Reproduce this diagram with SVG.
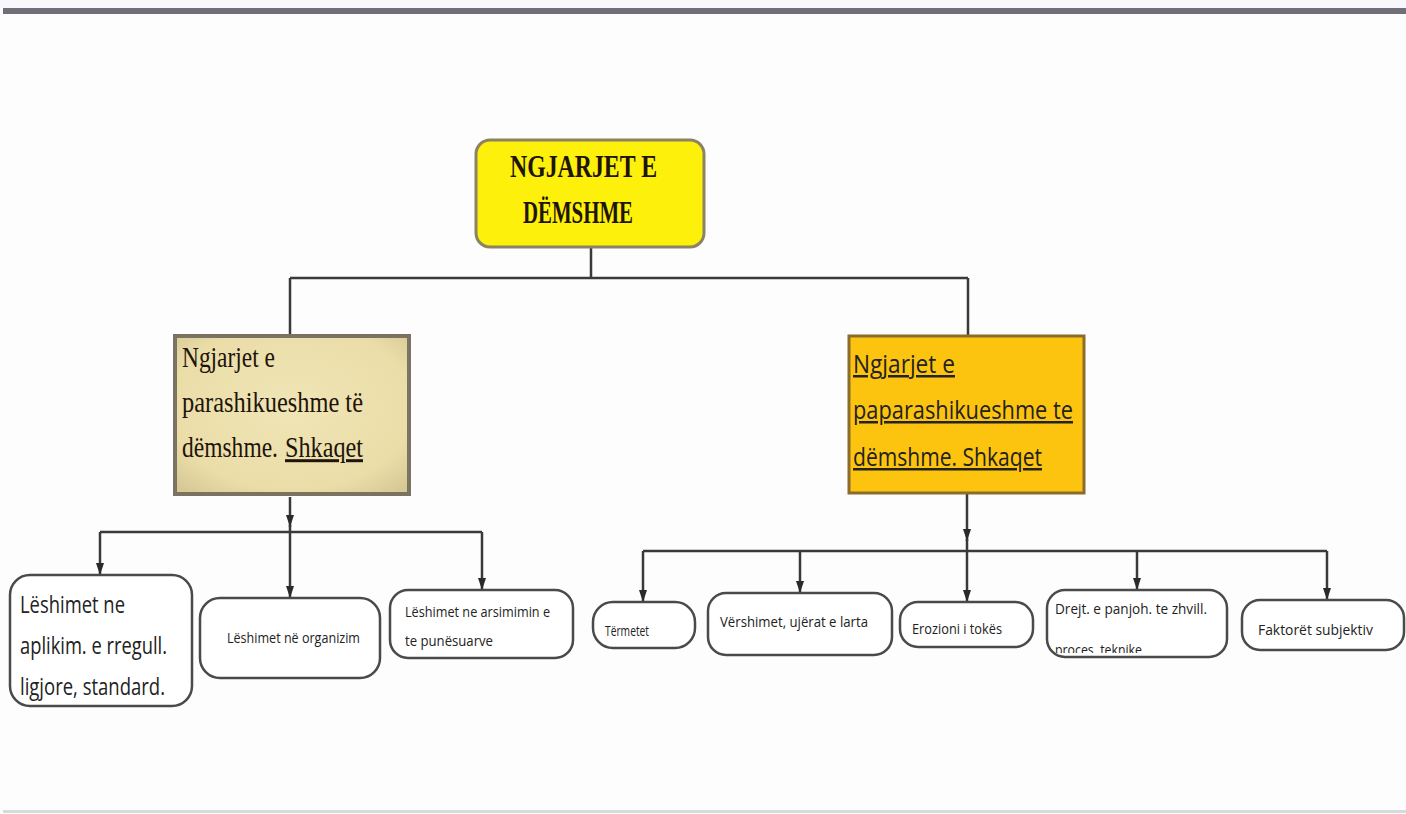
<svg xmlns="http://www.w3.org/2000/svg" width="1406" height="814" viewBox="0 0 1406 814">
<defs>
<style>
.bg{fill:#fdfdfd}
.conn{stroke:#3a3a3a;stroke-width:2.5;fill:none}
.serif{font-family:"Liberation Serif","Times New Roman",serif;fill:#1e140a}
.sans{font-family:"Open Sans","Liberation Sans",Arial,sans-serif;fill:#222}
.child{fill:#ffffff;stroke:#4a4a4a;stroke-width:2.5}
</style>
<marker id="ad" markerUnits="userSpaceOnUse" markerWidth="10" markerHeight="12" viewBox="0 0 10 12" refX="5" refY="12" orient="0">
<path d="M1,0 L9,0 L5,12 Z" fill="#2a2a2a"/>
</marker>
<radialGradient id="tan" cx="50%" cy="45%" r="70%">
<stop offset="0" stop-color="#f0e5b6"/>
<stop offset="0.75" stop-color="#eadda8"/>
<stop offset="1" stop-color="#d6c996"/>
</radialGradient>
<clipPath id="clipD"><rect x="1040" y="585" width="195" height="68"/></clipPath>
</defs>
<rect class="bg" x="0" y="0" width="1406" height="814"/>
<rect x="0" y="0" width="1406" height="8" fill="#f8f8fc"/>
<rect x="3" y="8" width="1403" height="6" fill="#6f6f79"/>
<rect x="3" y="810" width="1403" height="3" fill="#d9d9d9"/>

<g id="connectors">
<path class="conn" d="M591,248 V278 M290,278 H968 M290,278 V337 M968,278 V337"/>
<path class="conn" d="M290,497 V527" marker-end="url(#ad)"/>
<path class="conn" d="M290,525 V532 M100,532 H482"/>
<path class="conn" d="M100,532 V575" marker-end="url(#ad)"/>
<path class="conn" d="M290,532 V598" marker-end="url(#ad)"/>
<path class="conn" d="M482,532 V590" marker-end="url(#ad)"/>
<path class="conn" d="M967,493 V541" marker-end="url(#ad)"/>
<path class="conn" d="M967,539 V551 M643,551 H1327"/>
<path class="conn" d="M643,551 V602" marker-end="url(#ad)"/>
<path class="conn" d="M800,551 V593" marker-end="url(#ad)"/>
<path class="conn" d="M967,551 V602" marker-end="url(#ad)"/>
<path class="conn" d="M1137,551 V590" marker-end="url(#ad)"/>
<path class="conn" d="M1327,551 V600" marker-end="url(#ad)"/>
</g>

<g id="root">
<rect x="476" y="140" width="228" height="107" rx="14" fill="#fdf00a" stroke="#8c8264" stroke-width="3"/>
<text class="serif" x="510" y="177" font-size="32" font-weight="bold" textLength="147" lengthAdjust="spacingAndGlyphs">NGJARJET E</text>
<text class="serif" x="523" y="223" font-size="32" font-weight="bold" textLength="110" lengthAdjust="spacingAndGlyphs">DËMSHME</text>
</g>

<g id="left-parent">
<rect x="175" y="336" width="234" height="158" fill="url(#tan)" stroke="#7b7362" stroke-width="4"/>
<text class="serif" x="182" y="367" font-size="24" transform="matrix(1 0 0 1.25 0 -91.75)" textLength="93" lengthAdjust="spacingAndGlyphs">Ngjarjet e</text>
<text class="serif" x="182" y="412" font-size="24" transform="matrix(1 0 0 1.25 0 -103)" textLength="181" lengthAdjust="spacingAndGlyphs">parashikueshme të</text>
<text class="serif" x="182" y="457" font-size="24" transform="matrix(1 0 0 1.25 0 -114.25)" textLength="96" lengthAdjust="spacingAndGlyphs">dëmshme.</text>
<text class="serif" x="285" y="457" font-size="24" transform="matrix(1 0 0 1.25 0 -114.25)" text-decoration="underline" textLength="78" lengthAdjust="spacingAndGlyphs">Shkaqet</text>
</g>

<g id="right-parent">
<rect x="849" y="336" width="235" height="157" fill="#fdc40f" stroke="#8a6c2c" stroke-width="3"/>
<text class="sans" x="853" y="373" font-size="25" fill="#2a1a0a" text-decoration="underline" textLength="102" lengthAdjust="spacingAndGlyphs">Ngjarjet e</text>
<text class="sans" x="853" y="419" font-size="25" fill="#2a1a0a" text-decoration="underline" textLength="220" lengthAdjust="spacingAndGlyphs">paparashikueshme te</text>
<text class="sans" x="853" y="466" font-size="25" fill="#2a1a0a" text-decoration="underline" textLength="189" lengthAdjust="spacingAndGlyphs">dëmshme. Shkaqet</text>
</g>

<g id="child-aplikim">
<rect class="child" x="10" y="575" width="182" height="131" rx="20"/>
<text class="sans" x="20" y="613" font-size="24" textLength="105" lengthAdjust="spacingAndGlyphs">Lëshimet ne</text>
<text class="sans" x="20" y="654" font-size="24" textLength="147" lengthAdjust="spacingAndGlyphs">aplikim. e rregull.</text>
<text class="sans" x="20" y="695" font-size="24" textLength="145" lengthAdjust="spacingAndGlyphs">ligjore, standard.</text>
</g>

<g id="child-organizim">
<rect class="child" x="200" y="598" width="180" height="80" rx="20"/>
<text class="sans" x="227" y="643" font-size="14" textLength="133" lengthAdjust="spacingAndGlyphs">Lëshimet në organizim</text>
</g>

<g id="child-arsimimin">
<rect class="child" x="390" y="590" width="183" height="68" rx="18"/>
<text class="sans" x="405" y="617" font-size="14" textLength="145" lengthAdjust="spacingAndGlyphs">Lëshimet ne arsimimin e</text>
<text class="sans" x="405" y="646" font-size="14" textLength="88" lengthAdjust="spacingAndGlyphs">te punësuarve</text>
</g>

<g id="child-termetet">
<rect class="child" x="593" y="602" width="102" height="46" rx="20"/>
<text class="sans" x="605" y="636" font-size="15" textLength="44" lengthAdjust="spacingAndGlyphs">Tërmetet</text>
</g>

<g id="child-vershimet">
<rect class="child" x="708" y="593" width="184" height="62" rx="18"/>
<text class="sans" x="720" y="627" font-size="14" textLength="148" lengthAdjust="spacingAndGlyphs">Vërshimet, ujërat e larta</text>
</g>

<g id="child-erozioni">
<rect class="child" x="900" y="602" width="133" height="45" rx="18"/>
<text class="sans" x="912" y="634" font-size="14" textLength="90" lengthAdjust="spacingAndGlyphs">Erozioni i tokës</text>
</g>

<g id="child-drejt">
<rect class="child" x="1047" y="590" width="180" height="67" rx="18"/>
<g clip-path="url(#clipD)">
<text class="sans" x="1055" y="614" font-size="14" textLength="152" lengthAdjust="spacingAndGlyphs">Drejt. e panjoh. te zhvill.</text>
<text class="sans" x="1055" y="655" font-size="14" textLength="87" lengthAdjust="spacingAndGlyphs">proces. teknike</text>
</g>
</g>

<g id="child-faktoret">
<rect class="child" x="1242" y="600" width="162" height="50" rx="18"/>
<text class="sans" x="1258" y="635" font-size="14" textLength="115" lengthAdjust="spacingAndGlyphs">Faktorët subjektiv</text>
</g>
</svg>
